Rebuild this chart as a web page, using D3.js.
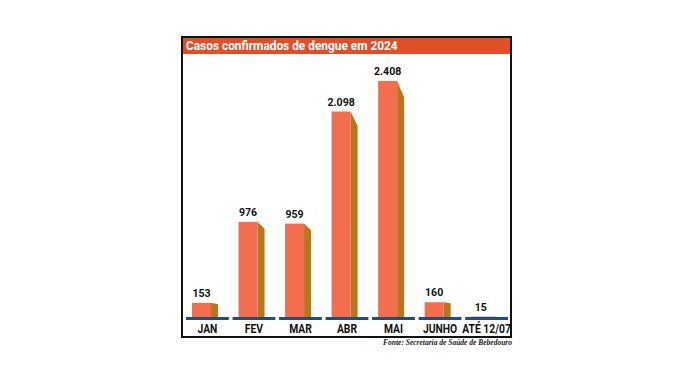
<!DOCTYPE html>
<html>
<head>
<meta charset="utf-8">
<script src="https://cdn.jsdelivr.net/npm/d3@7"></script>
<style>
  body { margin: 0; background: #fff; }
  svg { display: block; }
</style>
</head>
<body>
<div class="viz"></div>
<script>
// dados
const meses = ['JAN', 'FEV', 'MAR', 'ABR', 'MAI', 'JUNHO', 'ATÉ 12/07']
const casos = [153, 976, 959, 2098, 2408, 160, 15]
const rotulos = ['153', '976', '959', '2.098', '2.408', '160', '15']

const titulo = 'Casos confirmados de dengue em 2024'
const fonte = 'Fonte: Secretaria de Saúde de Bebedouro'

const width = 696
const height = 387
const base = 318
const frontW = 19
const sideW = 7
const offset = 6
const aperto = 0.86   // fonte do original é mais estreita

const svg = d3.select('.viz')
  .append('svg')
  .attr('width', width)
  .attr('height', height)

// moldura
svg.append('rect')
  .attr('x', 182).attr('y', 37)
  .attr('width', 329).attr('height', 300)
  .attr('fill', '#fff')
  .attr('stroke', '#111')
  .attr('stroke-width', 2)

svg.append('rect')
  .attr('x', 183).attr('y', 38)
  .attr('width', 327).attr('height', 16)
  .attr('fill', '#e04f27')

svg.append('text')
  .text(titulo)
  .attr('transform', 'translate(186, 50) scale(0.95, 1)')
  .attr('fill', '#fff')
  .attr('font-family', 'Roboto, sans-serif')
  .attr('font-weight', 'bold')
  .attr('font-size', 12.5)

const x = d3.scaleBand().domain(meses).range([186, 508]).paddingInner(0.08)
const y = d3.scaleLinear().domain([0, 2408]).range([base, 81])

const data = meses.map((m, i) => ({ mes: m, valor: casos[i], rotulo: rotulos[i] }))

const g = svg.append('g')

// face lateral
g.selectAll('path.lado')
  .data(data)
  .enter()
  .append('path')
  .attr('class', 'lado')
  .attr('d', d => {
    const x0 = x(d.mes) + offset + frontW
    const top = y(d.valor)
    const dy = (base - top) * 0.07
    return `M ${x0},${top} L ${x0 + sideW},${top + dy} L ${x0 + sideW},${base} L ${x0},${base} Z`
  })
  .attr('fill', '#b8761c')

// face frontal
g.selectAll('rect.frente')
  .data(data)
  .enter()
  .append('rect')
  .attr('class', 'frente')
  .attr('x', d => x(d.mes) + offset)
  .attr('y', d => y(d.valor))
  .attr('width', frontW)
  .attr('height', d => base - y(d.valor))
  .attr('fill', '#f36d4f')

// linhas de base
g.selectAll('line')
  .data(data)
  .enter()
  .append('line')
  .attr('x1', d => x(d.mes))
  .attr('x2', d => x(d.mes) + x.bandwidth())
  .attr('y1', base + 0.5)
  .attr('y2', base + 0.5)
  .attr('stroke', '#1d4f7c')
  .attr('stroke-width', 3)

// valores
g.selectAll('text.valor')
  .data(data)
  .enter()
  .append('text')
  .attr('class', 'valor')
  .text(d => d.rotulo)
  .attr('transform', d => `translate(${x(d.mes) + offset + frontW / 2}, ${y(d.valor) - 6}) scale(0.92, 1)`)
  .attr('text-anchor', 'middle')
  .attr('font-family', 'Roboto, sans-serif')
  .attr('font-weight', 'bold')
  .attr('font-size', 11.5)
  .attr('fill', '#111')

// meses
g.selectAll('text.mes')
  .data(data)
  .enter()
  .append('text')
  .attr('class', 'mes')
  .text(d => d.mes)
  .attr('transform', d => `translate(${x(d.mes) + x.bandwidth() / 2}, 333) scale(${aperto}, 1)`)
  .attr('text-anchor', 'middle')
  .attr('font-family', 'Roboto, sans-serif')
  .attr('font-weight', 'bold')
  .attr('font-size', 12)
  .attr('fill', '#111')

svg.append('text')
  .text(fonte)
  .attr('x', 512).attr('y', 345)
  .attr('text-anchor', 'end')
  .attr('font-family', '"Liberation Serif", serif')
  .attr('font-style', 'italic')
  .attr('font-weight', 'bold')
  .attr('font-size', 7.5)
  .attr('fill', '#222')
</script>
</body>
</html>
